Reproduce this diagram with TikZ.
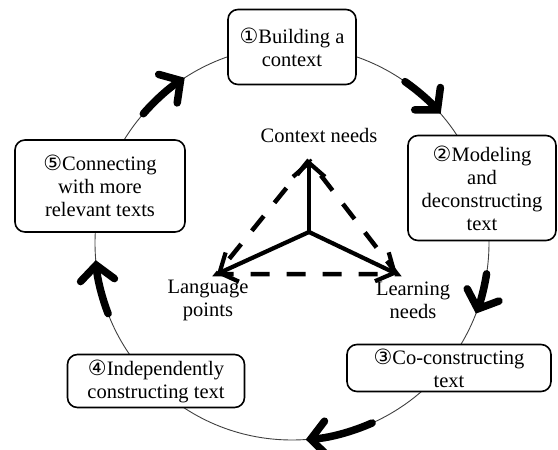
\documentclass[tikz,border=0pt]{standalone}
\usepackage{fontspec}
\setmainfont{Liberation Serif}
\newfontfamily\circfont{DejaVu Sans}
\usetikzlibrary{arrows.meta}

% circled stage numbers
\newcommand{\stagenum}[1]{{\circfont\fontsize{21}{23}\selectfont #1}}

\tikzset{
  stage/.style={draw,line width=1.6pt,rounded corners=10pt,fill=white,
    align=center,inner sep=1pt,font=\fontsize{20.5}{23}\selectfont},
  lbl/.style={align=center,inner sep=0pt,font=\fontsize{20.5}{23}\selectfont},
  cyclearrow/.style={line width=7.5pt,line cap=round,
    -{Straight Barb[length=15pt,width=34pt,line cap=round]}},
  axis/.style={line width=4.2pt,
    -{Straight Barb[length=14pt,width=32pt]}},
  rim/.style={line width=4.5pt,dash pattern=on 19pt off 17pt}
}

\begin{document}
\begin{tikzpicture}[x=1pt,y=-1pt]
    \useasboundingbox (0,0) rectangle (558,450);

    % the teaching cycle
    \coordinate (c) at (292,243);
    \draw[line width=0.9pt,black!75] (c) circle[radius=197];

    \draw[cyclearrow] (c) ++(221:197) arc[start angle=221,end angle=237,radius=197];
    \draw[cyclearrow] (c) ++(305:197) arc[start angle=305,end angle=319,radius=197];
    \draw[cyclearrow] (c) ++(9:197)   arc[start angle=9,end angle=21,radius=197];
    \draw[cyclearrow] (c) ++(66:197)  arc[start angle=66,end angle=86,radius=197];
    \draw[cyclearrow] (c) ++(159:197) arc[start angle=159,end angle=175,radius=197];

    \node[stage,minimum width=128pt,minimum height=75pt] (build) at (292,47)
      {\stagenum{①}Building a\\context};
    \node[stage,minimum width=148pt,minimum height=105pt] (model) at (482,188)
      {\stagenum{②}Modeling\\and\\deconstructing\\text};
    \node[stage,minimum width=204pt,minimum height=47pt] (cocon) at (449,368)
      {\stagenum{③}Co-constructing\\text};
    \node[stage,minimum width=177pt,minimum height=53pt] (indep) at (156,381)
      {\stagenum{④}Independently\\constructing text};
    \node[stage,minimum width=170pt,minimum height=92pt] (connect) at (100,186)
      {\stagenum{⑤}Connecting\\with more\\relevant texts};

    % needs triangle
    \coordinate (mid) at (309,232);
    \coordinate (top) at (309,160);
    \coordinate (lft) at (217,274);
    \coordinate (rgt) at (397,274);

    \draw[rim] (top) -- (lft) -- (rgt) -- cycle;
    \draw[axis] (mid) -- (top);
    \draw[axis] (mid) -- (lft);
    \draw[axis] (mid) -- (rgt);

    \node[lbl] (ctxneeds) at (319,135) {Context needs};
    \node[lbl] (langpts) at (208,300) {Language\\points};
    \node[lbl] (learnneeds) at (413,300) {Learning\\needs};
\end{tikzpicture}
\end{document}
